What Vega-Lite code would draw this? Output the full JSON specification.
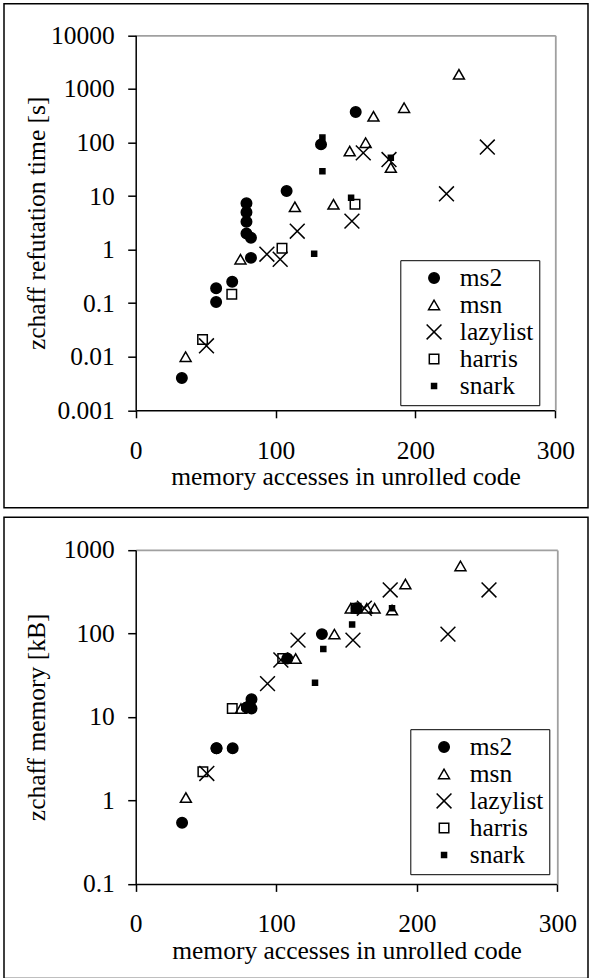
{
  "$schema": "https://vega.github.io/schema/vega-lite/v6.json",
  "padding": {"left": 3, "top": 2.7, "right": 0, "bottom": 0},
  "autosize": {"type": "pad"},
  "background": "white",
  "spacing": 7.5,
  "datasets": {
    "d": [
      {"s": "ms2", "x": 33, "t": 0.004, "m": 0.54},
      {"s": "ms2", "x": 57.5, "t": 0.19, "m": 4.2},
      {"s": "ms2", "x": 57.5, "t": 0.105, "m": 4.2},
      {"s": "ms2", "x": 69, "t": 0.25, "m": 4.2},
      {"s": "ms2", "x": 79.2, "t": 7.3, "m": 13},
      {"s": "ms2", "x": 79.2, "t": 5, "m": 13},
      {"s": "ms2", "x": 79.2, "t": 3.3, "m": 13},
      {"s": "ms2", "x": 79.2, "t": 2, "m": 13},
      {"s": "ms2", "x": 82.4, "t": 1.67, "m": 16.3},
      {"s": "ms2", "x": 82.4, "t": 0.7, "m": 12.6},
      {"s": "ms2", "x": 107.9, "t": 12.4, "m": 50},
      {"s": "ms2", "x": 132.5, "t": 92, "m": 98},
      {"s": "ms2", "x": 157.3, "t": 370, "m": 200},
      {"s": "msn", "x": 35.7, "t": 0.01, "m": 1.08},
      {"s": "msn", "x": 74.9, "t": 0.66, "m": 12.6},
      {"s": "msn", "x": 113.8, "t": 6.3, "m": 50},
      {"s": "msn", "x": 141.4, "t": 7, "m": 98},
      {"s": "msn", "x": 153, "t": 69, "m": 200},
      {"s": "msn", "x": 164.4, "t": 99, "m": 200},
      {"s": "msn", "x": 170, "t": 308, "m": 200},
      {"s": "msn", "x": 182.4, "t": 34, "m": 190},
      {"s": "msn", "x": 191.9, "t": 445, "m": 390},
      {"s": "msn", "x": 231.1, "t": 1870, "m": 643},
      {"s": "lazylist", "x": 50.6, "t": 0.016, "m": 2.1},
      {"s": "lazylist", "x": 93.8, "t": 0.82, "m": 25},
      {"s": "lazylist", "x": 103.3, "t": 0.66, "m": 48},
      {"s": "lazylist", "x": 115.5, "t": 2.2, "m": 83},
      {"s": "lazylist", "x": 154.6, "t": 3.4, "m": 83},
      {"s": "lazylist", "x": 162.7, "t": 64, "m": 200},
      {"s": "lazylist", "x": 181.1, "t": 48, "m": 331},
      {"s": "lazylist", "x": 222.2, "t": 11, "m": 98},
      {"s": "lazylist", "x": 251.4, "t": 82, "m": 331},
      {"s": "harris", "x": 47.8, "t": 0.021, "m": 2.2},
      {"s": "harris", "x": 68.7, "t": 0.146, "m": 12.6},
      {"s": "harris", "x": 104.6, "t": 1.06, "m": 50},
      {"s": "harris", "x": 156.8, "t": 7, "m": 200},
      {"s": "snark", "x": 127.6, "t": 0.84, "m": 25.6},
      {"s": "snark", "x": 133.5, "t": 29, "m": 65},
      {"s": "snark", "x": 133.5, "t": 123, "m": 100},
      {"s": "snark", "x": 154, "t": 9.3, "m": 128},
      {"s": "snark", "x": 182.4, "t": 52, "m": 200}
    ]
  },
  "config": {
    "font": "Liberation Serif",
    "view": {"stroke": "black", "strokeWidth": 1.5},
    "axis": {"labelFont": "Liberation Serif", "titleFont": "Liberation Serif", "labelFontSize": 25.5, "titleFontSize": 25.5, "labelColor": "black", "titleColor": "black", "grid": false},
    "legend": {"labelFont": "Liberation Serif", "labelFontSize": 25.5}
  },
  "resolve": {
    "scale": {"x": "independent", "y": "independent", "shape": "independent", "fill": "independent", "size": "independent"},
    "legend": {"shape": "independent", "fill": "independent", "size": "independent"}
  },
  "vconcat": [
    {
      "width": 584,
      "height": 504,
      "data": {"name": "d"},
      "layer": [
        {
          "mark": {"type": "point", "filled": true, "stroke": "black", "strokeWidth": 1.5, "opacity": 1},
          "encoding": {
            "x": {"field": "x", "type": "quantitative",
              "scale": {"domain": [0, 300], "range": [131.7, 551.3], "nice": false, "zero": false},
              "axis": {"orient": "bottom", "offset": -97.4, "values": [0, 100, 200, 300], "tickSize": 7.5, "tickColor": "black", "tickWidth": 1.5, "domainColor": "black", "domainWidth": 1.5, "labelFont": "Liberation Serif", "labelFontSize": 25.5, "labelBaseline": "alphabetic", "labelPadding": 40.5, "labelFlush": false, "labelOverlap": false, "title": "memory accesses in unrolled code", "titleFont": "Liberation Serif", "titleFontSize": 25.5, "titleFontWeight": "normal", "titleY": 74.5, "titleBaseline": "alphabetic"}},
            "y": {"field": "t", "type": "quantitative",
              "scale": {"type": "log", "domain": [0.001, 10000], "range": [406.6, 31.6], "nice": false},
              "axis": {"orient": "left", "offset": -131.7, "values": [0.001, 0.01, 0.1, 1, 10, 100, 1000, 10000], "labelExpr": "toString(datum.value)", "tickSize": 8, "tickColor": "black", "tickWidth": 1.5, "domainColor": "black", "domainWidth": 1.5, "labelFont": "Liberation Serif", "labelFontSize": 25.5, "labelPadding": 13.4, "labelFlush": false, "labelOverlap": false, "title": "zchaff refutation time [s]", "titleFont": "Liberation Serif", "titleFontSize": 25.5, "titleFontWeight": "normal", "titleX": -91, "titleBaseline": "alphabetic"}},
            "shape": {"field": "s", "type": "nominal",
              "scale": {"domain": ["ms2", "msn", "lazylist", "harris", "snark"], "range": ["circle", "triangle-up", "M-1,-1L1,1M1,-1L-1,1", "square", "square"]},
              "legend": {"title": null, "orient": "none", "legendX": 396.3, "legendY": 256.5, "padding": 5, "strokeColor": "black", "fillColor": "white", "labelFont": "Liberation Serif", "labelFontSize": 25.5, "labelColor": "black", "symbolOffset": 16, "labelOffset": 13, "rowPadding": 0, "labelExpr": "datum.label + '\u00a0\u00a0'", "encode": {"symbols": {"update": {"stroke": {"value": "black"}, "strokeWidth": {"value": 1.5}}}}}},
            "fill": {"field": "s", "type": "nominal",
              "scale": {"domain": ["ms2", "msn", "lazylist", "harris", "snark"], "range": ["black", "transparent", "transparent", "transparent", "black"]},
              "legend": {"title": null, "orient": "none", "legendX": 396.3, "legendY": 256.5, "padding": 5, "strokeColor": "black", "fillColor": "white", "labelFont": "Liberation Serif", "labelFontSize": 25.5, "labelColor": "black", "symbolOffset": 16, "labelOffset": 13, "rowPadding": 0, "labelExpr": "datum.label + '\u00a0\u00a0'", "encode": {"symbols": {"update": {"stroke": {"value": "black"}, "strokeWidth": {"value": 1.5}}}}}},
            "size": {"field": "s", "type": "nominal",
              "scale": {"type": "ordinal", "domain": ["ms2", "msn", "lazylist", "harris", "snark"], "range": [110, 120, 220, 90, 25]},
              "legend": {"title": null, "orient": "none", "legendX": 396.3, "legendY": 256.5, "padding": 5, "strokeColor": "black", "fillColor": "white", "labelFont": "Liberation Serif", "labelFontSize": 25.5, "labelColor": "black", "symbolOffset": 16, "labelOffset": 13, "rowPadding": 0, "labelExpr": "datum.label + '\u00a0\u00a0'", "encode": {"symbols": {"update": {"stroke": {"value": "black"}, "strokeWidth": {"value": 1.5}}}}}}
          }
        },
        {
          "mark": {"type": "point", "opacity": 0},
          "encoding": {
            "x": {"field": "x", "type": "quantitative",
              "axis": {"orient": "top", "offset": -31.6, "ticks": false, "labels": false, "title": null, "domainColor": "#a0a0a0", "domainWidth": 1.8}},
            "y": {"field": "t", "type": "quantitative",
              "axis": {"orient": "right", "offset": -32.7, "ticks": false, "labels": false, "title": null, "domainColor": "#a0a0a0", "domainWidth": 1.8}}
          }
        }
      ],
      "resolve": {"axis": {"x": "independent", "y": "independent"}}
    },
    {
      "width": 584,
      "height": 461.3,
      "data": {"name": "d"},
      "layer": [
        {
          "mark": {"type": "point", "filled": true, "stroke": "black", "strokeWidth": 1.5, "opacity": 1},
          "encoding": {
            "x": {"field": "x", "type": "quantitative",
              "scale": {"domain": [0, 300], "range": [131.7, 553.3], "nice": false, "zero": false},
              "axis": {"orient": "bottom", "offset": -94.6, "values": [0, 100, 200, 300], "tickSize": 7.5, "tickColor": "black", "tickWidth": 1.5, "domainColor": "black", "domainWidth": 1.5, "labelFont": "Liberation Serif", "labelFontSize": 25.5, "labelBaseline": "alphabetic", "labelPadding": 39.8, "labelFlush": false, "labelOverlap": false, "title": "memory accesses in unrolled code", "titleFont": "Liberation Serif", "titleFontSize": 25.5, "titleFontWeight": "normal", "titleY": 74.5, "titleBaseline": "alphabetic"}},
            "y": {"field": "m", "type": "quantitative",
              "scale": {"type": "log", "domain": [0.1, 1000], "range": [366.7, 32.7], "nice": false},
              "axis": {"orient": "left", "offset": -131.7, "values": [0.1, 1, 10, 100, 1000], "labelExpr": "toString(datum.value)", "tickSize": 8, "tickColor": "black", "tickWidth": 1.5, "domainColor": "black", "domainWidth": 1.5, "labelFont": "Liberation Serif", "labelFontSize": 25.5, "labelPadding": 13.4, "labelFlush": false, "labelOverlap": false, "title": "zchaff memory [kB]", "titleFont": "Liberation Serif", "titleFontSize": 25.5, "titleFontWeight": "normal", "titleX": -91, "titleBaseline": "alphabetic"}},
            "shape": {"field": "s", "type": "nominal",
              "scale": {"domain": ["ms2", "msn", "lazylist", "harris", "snark"], "range": ["circle", "triangle-up", "M-1,-1L1,1M1,-1L-1,1", "square", "square"]},
              "legend": {"title": null, "orient": "none", "legendX": 406.3, "legendY": 212, "padding": 5, "strokeColor": "black", "fillColor": "white", "labelFont": "Liberation Serif", "labelFontSize": 25.5, "labelColor": "black", "symbolOffset": 16, "labelOffset": 13, "rowPadding": 0, "labelExpr": "datum.label + '\u00a0'", "encode": {"symbols": {"update": {"stroke": {"value": "black"}, "strokeWidth": {"value": 1.5}}}}}},
            "fill": {"field": "s", "type": "nominal",
              "scale": {"domain": ["ms2", "msn", "lazylist", "harris", "snark"], "range": ["black", "transparent", "transparent", "transparent", "black"]},
              "legend": {"title": null, "orient": "none", "legendX": 406.3, "legendY": 212, "padding": 5, "strokeColor": "black", "fillColor": "white", "labelFont": "Liberation Serif", "labelFontSize": 25.5, "labelColor": "black", "symbolOffset": 16, "labelOffset": 13, "rowPadding": 0, "labelExpr": "datum.label + '\u00a0'", "encode": {"symbols": {"update": {"stroke": {"value": "black"}, "strokeWidth": {"value": 1.5}}}}}},
            "size": {"field": "s", "type": "nominal",
              "scale": {"type": "ordinal", "domain": ["ms2", "msn", "lazylist", "harris", "snark"], "range": [110, 120, 220, 90, 25]},
              "legend": {"title": null, "orient": "none", "legendX": 406.3, "legendY": 212, "padding": 5, "strokeColor": "black", "fillColor": "white", "labelFont": "Liberation Serif", "labelFontSize": 25.5, "labelColor": "black", "symbolOffset": 16, "labelOffset": 13, "rowPadding": 0, "labelExpr": "datum.label + '\u00a0'", "encode": {"symbols": {"update": {"stroke": {"value": "black"}, "strokeWidth": {"value": 1.5}}}}}}
          }
        },
        {
          "mark": {"type": "point", "opacity": 0},
          "encoding": {
            "x": {"field": "x", "type": "quantitative",
              "axis": {"orient": "top", "offset": -32.7, "ticks": false, "labels": false, "title": null, "domainColor": "#a0a0a0", "domainWidth": 1.8}},
            "y": {"field": "m", "type": "quantitative",
              "axis": {"orient": "right", "offset": -30.7, "ticks": false, "labels": false, "title": null, "domainColor": "#a0a0a0", "domainWidth": 1.8}}
          }
        }
      ],
      "resolve": {"axis": {"x": "independent", "y": "independent"}}
    }
  ]
}
